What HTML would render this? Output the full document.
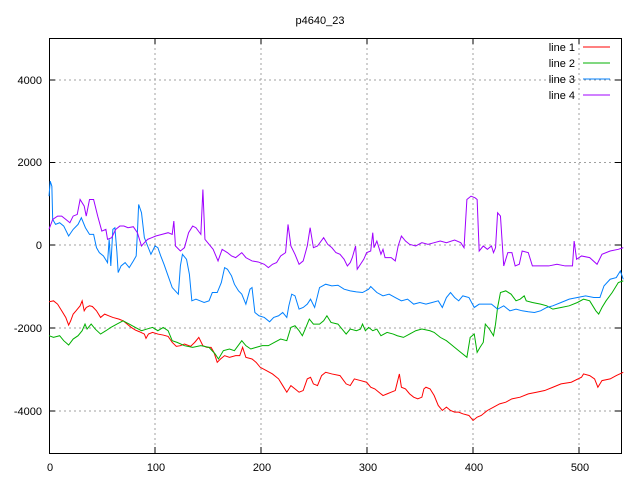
<!DOCTYPE html>
<html><head><meta charset="utf-8"><style>
body{margin:0;background:#fff}
svg text{font-family:"Liberation Sans",sans-serif;font-size:11px;fill:#000}
</style></head><body>
<svg width="640" height="480" xmlns="http://www.w3.org/2000/svg">
<rect width="640" height="480" fill="#fff"/>
<g stroke="#a0a0a0" stroke-dasharray="2,3" stroke-width="1">
<line x1="155" y1="38" x2="155" y2="453"/><line x1="261" y1="38" x2="261" y2="453"/>
<line x1="367" y1="38" x2="367" y2="453"/><line x1="473" y1="38" x2="473" y2="453"/>
<line x1="579" y1="38" x2="579" y2="453"/>
<line x1="49" y1="80" x2="621" y2="80"/><line x1="49" y1="162.5" x2="621" y2="162.5"/>
<line x1="49" y1="245" x2="621" y2="245"/><line x1="49" y1="328" x2="621" y2="328"/>
<line x1="49" y1="411" x2="621" y2="411"/>
</g>
<rect x="49.5" y="38.5" width="572" height="415" fill="none" stroke="#000"/>
<g stroke="#000">
<path d="M155 453v-6M261 453v-6M367 453v-6M473 453v-6M579 453v-6M155 38v6M261 38v6M367 38v6M473 38v6M579 38v6"/>
<path d="M49 80h6M49 162.5h6M49 245h6M49 328h6M49 411h6M621 80h-6M621 162.5h-6M621 245h-6M621 328h-6M621 411h-6"/>
</g>
<text x="320" y="24" text-anchor="middle">p4640_23</text>
<g text-anchor="end">
<text x="42" y="84">4000</text><text x="42" y="166">2000</text><text x="42" y="249">0</text>
<text x="42" y="332">-2000</text><text x="42" y="415">-4000</text>
</g>
<g text-anchor="middle">
<text x="50" y="471">0</text><text x="156" y="471">100</text><text x="262" y="471">200</text>
<text x="368" y="471">300</text><text x="474" y="471">400</text><text x="580" y="471">500</text>
</g>
<g text-anchor="end">
<text x="575" y="51">line 1</text><text x="575" y="67">line 2</text>
<text x="575" y="83">line 3</text><text x="575" y="99">line 4</text>
</g>
<line x1="583" y1="47" x2="610" y2="47" stroke="#ff0000"/>
<line x1="583" y1="63" x2="610" y2="63" stroke="#00b000"/>
<line x1="583" y1="79" x2="610" y2="79" stroke="#0080ff"/>
<line x1="583" y1="95" x2="610" y2="95" stroke="#a000ff"/>
<g fill="none" stroke-width="1" transform="translate(49,245) scale(0.4093,0.3323) translate(-119,-737)">
<polyline vector-effect="non-scaling-stroke" stroke="#ff0000" points="119,908 130,905 140,915 150,935 160,955 167,978 172,965 178,945 185,935 195,920 200,905 205,935 210,925 218,920 225,922 235,935 245,955 255,945 265,950 275,955 290,960 300,965 310,975 320,985 330,993 340,998 352,1005 356,1018 362,1005 372,1000 385,1005 398,1008 410,1012 420,1030 430,1042 440,1040 450,1035 465,1042 475,1030 485,1015 495,1040 505,1045 515,1045 522,1060 530,1090 538,1080 548,1070 560,1075 575,1070 585,1070 592,1045 600,1075 615,1080 625,1090 635,1105 650,1115 665,1125 680,1140 690,1160 700,1180 710,1160 720,1170 730,1180 740,1175 750,1140 758,1135 765,1155 775,1160 785,1130 795,1120 810,1125 830,1130 845,1155 855,1160 865,1140 880,1145 895,1150 905,1165 915,1170 925,1180 935,1190 945,1185 955,1180 965,1175 970,1150 975,1125 980,1165 990,1170 1000,1185 1010,1195 1020,1200 1030,1195 1035,1170 1040,1165 1050,1170 1060,1190 1070,1220 1080,1235 1090,1225 1100,1235 1110,1240 1120,1240 1130,1245 1145,1250 1155,1265 1165,1255 1175,1250 1190,1235 1205,1225 1220,1215 1235,1210 1250,1200 1270,1195 1290,1185 1310,1180 1330,1175 1350,1165 1370,1155 1395,1150 1420,1135 1425,1125 1440,1130 1452,1140 1460,1165 1470,1145 1490,1140 1505,1130 1522,1120"/>
<polyline vector-effect="non-scaling-stroke" stroke="#00b000" points="119,1010 130,1015 145,1010 155,1025 167,1038 178,1020 190,1010 200,995 207,975 212,990 222,975 232,990 245,1005 258,995 270,985 285,975 300,965 315,975 330,985 345,995 358,990 372,985 385,995 398,985 410,995 420,1025 432,1030 450,1040 470,1045 490,1040 510,1045 525,1065 533,1080 545,1055 560,1050 572,1055 590,1025 600,1040 612,1050 625,1045 640,1040 655,1040 670,1030 685,1020 700,1025 710,985 720,980 730,995 738,1010 745,990 755,960 765,975 780,975 790,965 798,950 808,970 825,975 835,990 845,1005 855,990 870,995 880,990 885,975 892,995 900,985 910,995 920,990 930,1010 945,1000 960,1005 970,1010 985,1015 1000,1005 1015,995 1030,990 1050,995 1060,1000 1075,1015 1090,1025 1100,1035 1110,1045 1125,1060 1140,1075 1148,1015 1158,1005 1165,1060 1172,1045 1180,1030 1185,975 1195,990 1205,1010 1210,975 1215,925 1222,880 1235,875 1248,885 1260,905 1270,900 1280,890 1285,905 1300,910 1320,915 1335,920 1350,930 1370,925 1390,920 1410,910 1425,900 1440,905 1455,935 1462,945 1470,925 1480,905 1495,880 1510,850 1522,845"/>
<polyline vector-effect="non-scaling-stroke" stroke="#0080ff" points="119,590 122,545 126,560 128,660 135,675 145,670 155,680 167,710 178,690 190,675 198,655 208,685 218,705 228,705 235,745 242,760 252,770 262,790 266,720 270,800 275,690 280,685 285,760 288,820 295,800 305,790 315,805 325,785 332,770 335,700 338,615 345,640 352,715 360,740 368,765 378,740 385,745 392,770 400,795 410,830 420,865 435,885 440,800 445,765 455,780 462,825 468,905 478,900 488,905 498,910 510,905 518,880 530,880 540,850 548,805 555,810 565,830 572,855 582,875 590,885 600,915 610,870 615,865 622,940 632,950 645,955 658,968 668,955 680,950 690,940 700,955 705,920 712,885 720,890 730,930 740,925 750,915 758,900 768,925 780,865 795,855 810,860 825,858 840,870 855,875 870,878 885,880 900,870 905,862 920,880 935,890 950,885 965,895 980,905 995,900 1010,915 1025,910 1040,915 1055,910 1070,905 1080,925 1090,895 1100,880 1110,895 1120,905 1130,890 1145,895 1158,925 1170,915 1185,915 1200,915 1215,930 1230,920 1245,935 1260,930 1275,935 1290,938 1305,940 1320,935 1335,925 1350,920 1370,910 1390,900 1410,895 1430,890 1450,895 1465,895 1475,860 1490,840 1505,835 1515,815 1522,840"/>
<polyline vector-effect="non-scaling-stroke" stroke="#a000ff" points="119,690 128,660 140,650 150,650 160,660 170,670 178,650 188,645 195,600 205,620 210,650 218,600 228,600 238,650 248,695 258,690 262,720 272,715 282,690 292,680 302,680 312,685 325,682 335,700 345,740 352,730 360,720 370,715 380,710 395,705 410,700 420,705 424,665 428,740 440,755 450,745 460,700 470,680 478,685 490,705 495,570 500,720 510,735 520,750 532,785 542,750 555,760 565,770 575,775 590,760 600,775 615,785 630,788 645,795 655,805 665,795 675,790 685,770 697,760 703,675 710,740 720,765 730,795 740,785 750,740 757,685 765,745 775,740 790,715 800,735 810,745 820,760 830,765 840,780 848,800 855,790 860,775 868,740 872,810 880,795 888,780 895,760 905,755 910,700 913,745 920,725 930,765 935,750 940,775 955,775 965,785 972,740 980,710 990,725 1000,735 1015,740 1030,730 1045,735 1060,730 1075,725 1090,730 1110,722 1125,730 1133,745 1140,600 1150,590 1160,595 1165,600 1170,755 1180,740 1190,750 1200,740 1205,760 1210,745 1215,640 1222,650 1230,800 1240,760 1250,760 1258,800 1268,795 1275,755 1290,760 1300,800 1320,800 1340,800 1360,795 1380,800 1398,800 1402,725 1408,780 1420,770 1440,775 1458,795 1470,765 1490,755 1510,750 1522,745"/>
</g>
</svg>
</body></html>
